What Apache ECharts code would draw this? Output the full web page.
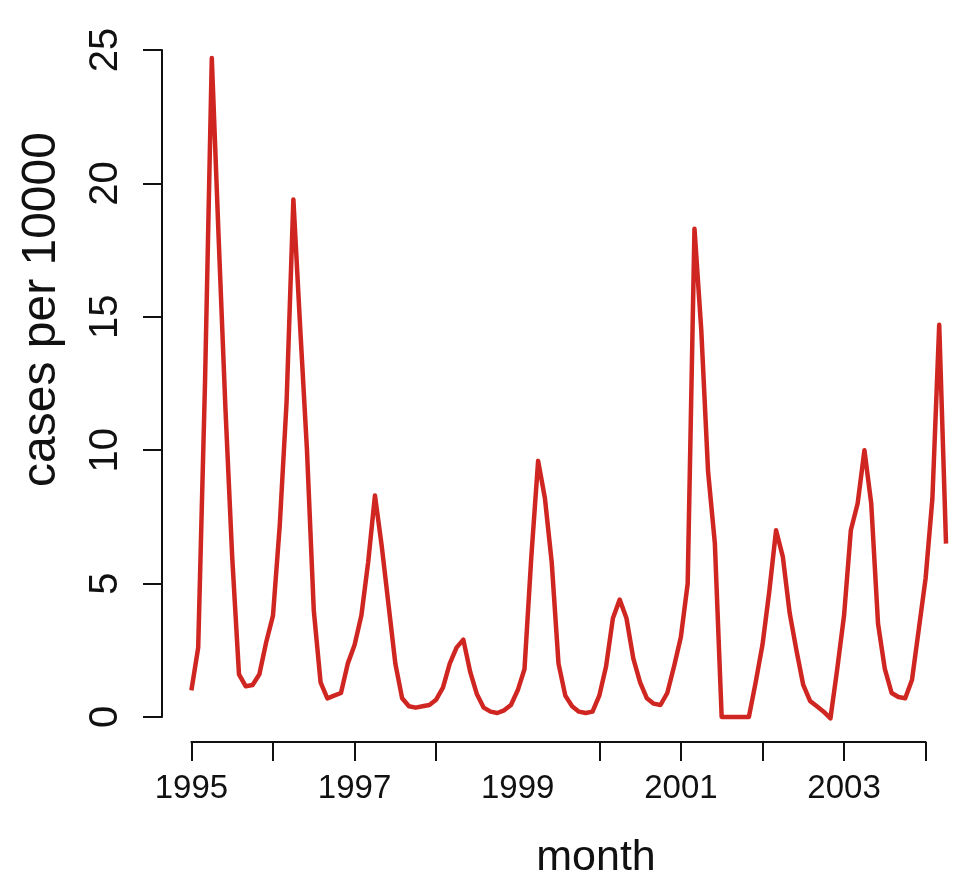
<!DOCTYPE html>
<html>
<head>
<meta charset="utf-8">
<script src="https://cdn.jsdelivr.net/npm/echarts@6/dist/echarts.min.js"></script>
<style>
html,body{margin:0;padding:0;background:#fff;}
#chart{width:958px;height:880px;}
</style>
</head>
<body>
<div id="chart"></div>
<script>
// Monthly cases per 10000, Jan 1995 .. Apr 2004
const startYear = 1995;
const cases1995 = [1.0, 2.6, 12.5, 24.7, 18.0, 11.6, 6.0, 1.6, 1.15, 1.2, 1.6, 2.8];
const cases1996 = [3.8, 7.2, 11.8, 19.4, 14.6, 10.0, 4.0, 1.3, 0.7, 0.8, 0.9, 2.0];
const cases1997 = [2.7, 3.8, 5.8, 8.3, 6.4, 4.2, 2.0, 0.7, 0.4, 0.35, 0.4, 0.45];
const cases1998 = [0.65, 1.1, 2.0, 2.6, 2.9, 1.7, 0.85, 0.35, 0.2, 0.15, 0.25, 0.45];
const cases1999 = [1.0, 1.8, 6.0, 9.6, 8.2, 5.8, 2.0, 0.8, 0.4, 0.2, 0.15, 0.2];
const cases2000 = [0.8, 1.9, 3.7, 4.4, 3.7, 2.2, 1.3, 0.7, 0.5, 0.45, 0.9, 1.9];
const cases2001 = [3.0, 5.0, 18.3, 14.5, 9.2, 6.5, 0, 0, 0, 0, 0, 1.3];
const cases2002 = [2.7, 4.7, 7.0, 6.0, 3.9, 2.5, 1.2, 0.6, 0.4, 0.2, -0.05, 1.8];
const cases2003 = [3.8, 7.0, 8.0, 10.0, 8.0, 3.5, 1.8, 0.9, 0.75, 0.7, 1.4, 3.3];
const cases2004 = [5.2, 8.2, 14.7, 6.5];

const xTickValues = [1995, 1996, 1997, 1998, 2000, 2001, 2002, 2003, 2004];
const xLabelValues = [1995, 1997, 1999, 2001, 2003];
const yTickValues = [0, 5, 10, 15, 20, 25];

const allCases = [].concat(cases1995, cases1996, cases1997, cases1998, cases1999,
  cases2000, cases2001, cases2002, cases2003, cases2004);
const seriesData = allCases.map((v, i) => [startYear + i / 12, v]);
const lastX = startYear + (allCases.length - 1) / 12;

const pxPerYear = 81.58;
const plotLeft = 191.4, plotTop = 50, plotHeight = 667;

const chart = echarts.init(document.getElementById('chart'), null, {renderer: 'canvas'});
const fontFam = "'Liberation Sans', Arial, Helvetica, sans-serif";
chart.setOption({
  backgroundColor: '#ffffff',
  animation: false,
  grid: [
    {left: plotLeft, top: plotTop, width: pxPerYear * (lastX - startYear), height: plotHeight,
      containLabel: false, outerBoundsMode: 'none'},
    {left: plotLeft, top: plotTop, width: pxPerYear * 9, height: plotHeight,
      containLabel: false, outerBoundsMode: 'none'}
  ],
  xAxis: [
    {type: 'value', gridIndex: 0, min: startYear, max: lastX, show: false},
    {
      type: 'value', gridIndex: 1, min: 1995, max: 2004, interval: 1,
      offset: 25,
      name: 'month', nameLocation: 'middle', nameGap: 95,
      nameTextStyle: {fontFamily: fontFam, fontSize: 43, color: '#111', padding: [0, 0, 0, 75]},
      axisLine: {show: true, onZero: false, lineStyle: {color: '#111', width: 2}},
      axisTick: {show: true, length: 19, customValues: xTickValues, lineStyle: {color: '#111', width: 2}},
      axisLabel: {customValues: xLabelValues, margin: 30, fontFamily: fontFam, fontSize: 33, color: '#111',
        formatter: v => String(v)},
      splitLine: {show: false}
    }
  ],
  yAxis: [
    {type: 'value', gridIndex: 0, min: 0, max: 25, show: false},
    {
      type: 'value', gridIndex: 1, min: 0, max: 25, interval: 5,
      offset: 29.4,
      name: 'cases per 10000', nameLocation: 'middle', nameGap: 96, nameRotate: 90,
      nameTextStyle: {fontFamily: fontFam, fontSize: 48, color: '#111', padding: [0, 0, 0, 148]},
      axisLine: {show: true, onZero: false, lineStyle: {color: '#111', width: 2}},
      axisTick: {show: true, length: 19, customValues: yTickValues, lineStyle: {color: '#111', width: 2}},
      axisLabel: {rotate: 90, margin: 36, fontFamily: fontFam, fontSize: 40, color: '#111'},
      splitLine: {show: false}
    }
  ],
  series: [{
    type: 'line',
    xAxisIndex: 0, yAxisIndex: 0,
    data: seriesData,
    showSymbol: false,
    clip: false,
    lineStyle: {color: '#d02622', width: 4.5, join: 'round'}
  }]
});
</script>
</body>
</html>
